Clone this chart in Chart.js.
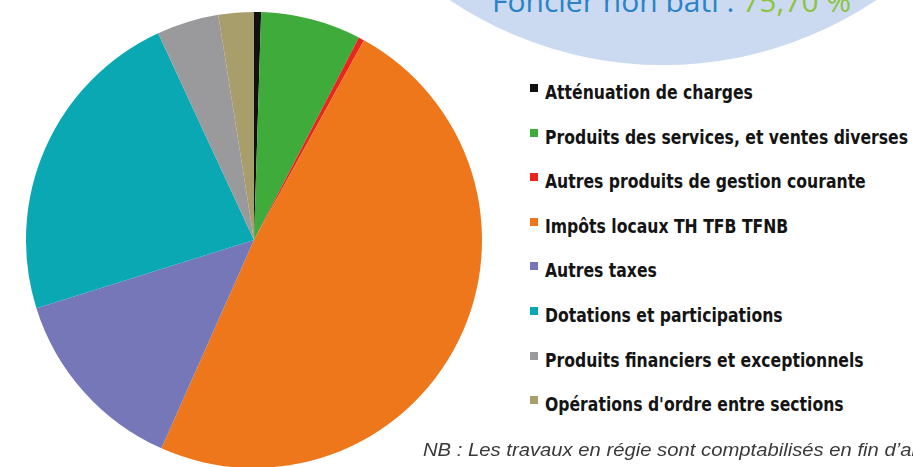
<!DOCTYPE html>
<html lang="fr">
<head>
<meta charset="utf-8">
<script src="https://cdn.jsdelivr.net/npm/chart.js@4/dist/chart.umd.min.js"></script>
<style>
    html, body { margin: 0; padding: 0; }
    body { width: 913px; height: 467px; overflow: hidden; background: #fff; position: relative; font-family: "Liberation Sans", sans-serif; }
    .bubble { position: absolute; left: 280px; top: -701px; width: 766px; height: 766px; border-radius: 50%; background: #cbdaf0; }
    .bubble-text { position: absolute; left: 492px; top: -17px; font-family: "Open Sans", sans-serif; font-size: 30px; line-height: 36px; white-space: nowrap; color: #2a82c8; }
    .bubble-text .pct { color: #8cc43f; }
    .pie-box { position: absolute; left: 26px; top: 12px; width: 456px; height: 456px; }
    .legend { position: absolute; left: 530px; top: 70px; }
    .legend-item { position: relative; height: 44.6px; line-height: 44.6px; white-space: nowrap; }
    .legend-item .sw { position: absolute; left: 0; top: 14px; width: 8px; height: 8px; }
    .legend-item .lbl { position: absolute; left: 15px; top: 0; transform-origin: 0 50%; font-family: "DejaVu Sans Condensed", "DejaVu Sans", sans-serif; font-weight: bold; font-size: 19px; color: #141414; }
    .note { position: absolute; left: 423px; top: 440px; transform-origin: 0 50%; transform: scaleX(1.125); font-family: "Liberation Sans", sans-serif; font-style: italic; font-size: 18px; color: #3a3a3a; white-space: nowrap; }
</style>
</head>
<body>
<div class="bubble"></div>
<div class="bubble-text">Foncier non bâti : <span class="pct">75,70 %</span></div>
<div class="pie-box"><canvas id="recettes"></canvas></div>
<div class="legend" id="legend"></div>
<div class="note">NB : Les travaux en régie sont comptabilisés en fin d’année</div>

<script>
const categories = [
    'Atténuation de charges',
    'Produits des services, et ventes diverses',
    'Autres produits de gestion courante',
    'Impôts locaux TH TFB TFNB',
    'Autres taxes',
    'Dotations et participations',
    'Produits financiers et exceptionnels',
    "Opérations d'ordre entre sections"
];
const shares = [0.5, 7.1, 0.4, 48.6, 13.5, 22.9, 4.4, 2.5];
const sliceColors = ['#111111', '#3fab3a', '#e8261e', '#ee771c', '#7677b8', '#09a8b2', '#9a9a9c', '#a89e6c'];

document.addEventListener('DOMContentLoaded', function() {
    setupPie();
    buildLegend();
});

function setupPie() {
    const ctx = document.getElementById('recettes');
    new Chart(ctx, {
        type: 'pie',
        data: {
            labels: categories,
            datasets: [{
                data: shares,
                backgroundColor: sliceColors,
                borderWidth: 0
            }]
        },
        options: {
            responsive: true,
            maintainAspectRatio: false,
            animation: false,
            layout: { padding: 0 },
            plugins: {
                legend: { display: false },
                tooltip: { enabled: false }
            }
        }
    });
}

function buildLegend() {
    const legend = document.getElementById('legend');
    legend.innerHTML = categories.map((label, i) => `
        <div class="legend-item"><span class="sw" style="background:${sliceColors[i]}"></span><span class="lbl">${label}</span></div>
    `).join('');

    // squeeze the labels so the longest one ends where the reference does
    const labels = legend.querySelectorAll('.lbl');
    let widest = 0;
    labels.forEach(el => { widest = Math.max(widest, el.getBoundingClientRect().width); });
    const scale = 363 / widest;
    labels.forEach(el => { el.style.transform = `scaleX(${scale})`; });
}
</script>
</body>
</html>
